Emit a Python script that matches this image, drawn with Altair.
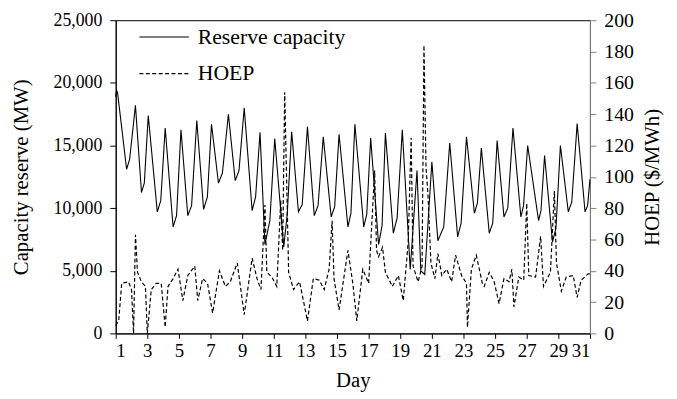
import altair as alt
import pandas as pd

# Reserve capacity (MW) — key points
reserve_day = [1.00, 1.06, 1.12, 1.69, 1.88, 2.25, 2.63, 2.81, 3.06, 3.63, 3.85, 4.13, 4.63, 4.85,
               5.13, 5.56, 5.80, 6.13, 6.56, 6.80, 7.06, 7.50, 7.75, 8.13, 8.56, 8.80, 9.13,
               9.63, 9.85, 10.13, 10.44, 10.75, 11.06, 11.63, 11.85, 12.13, 12.56, 12.80, 13.13,
               13.56, 13.80, 14.13, 14.63, 14.85, 15.13, 15.69, 15.88, 16.13, 16.69, 16.88,
               17.13, 17.63, 17.85, 18.06, 18.56, 18.80, 19.13, 19.63, 20.06, 20.30, 20.55,
               21.00, 21.38, 21.75, 22.13, 22.63, 22.85, 23.19, 23.69, 23.88, 24.13, 24.63,
               24.85, 25.13, 25.56, 25.80, 26.13, 26.63, 26.80, 27.06, 27.75, 27.90, 28.13,
               28.63, 28.85, 29.13, 29.63, 29.85, 30.19, 30.69, 30.85, 31.00]
reserve_mw = [18900, 19400, 19200, 13100, 13900, 18200, 11250, 12000, 17400, 9700, 10600, 16400,
              8500, 9400, 16250, 9400, 10200, 17000, 9900, 10900, 16700, 12000, 12800, 17500,
              12200, 13000, 18000, 9800, 10900, 16050, 7100, 9000, 15550, 6900, 9500, 16100,
              9700, 10300, 16500, 9400, 10200, 15700, 9300, 10100, 15900, 8500, 9600, 16700,
              8500, 9500, 15600, 7100, 8600, 16000, 8000, 9200, 16250, 5100, 13000, 5000,
              4700, 13700, 7400, 8500, 15200, 7700, 8800, 15700, 9600, 10400, 14800, 8000,
              8800, 15400, 9300, 10000, 16400, 9300, 10200, 15000, 9000, 9800, 14200, 7300,
              8400, 15000, 9700, 10500, 16750, 9700, 10200, 12300]

# HOEP ($/MWh) — key points
hoep_day = [1.00, 1.19, 1.38, 1.81, 2.00, 2.13, 2.25, 2.38, 2.63, 2.88, 3.00, 3.25, 3.56, 3.88,
            4.13, 4.31, 4.63, 4.94, 5.25, 5.56, 6.00, 6.19, 6.50, 6.81, 7.13, 7.56, 7.94, 8.25,
            8.69, 9.13, 9.63, 9.94, 10.19, 10.44, 10.56, 10.88, 11.19, 11.44, 11.56, 11.69,
            11.94, 12.25, 12.63, 13.13, 13.50, 13.88, 14.19, 14.50, 14.69, 14.81, 15.13, 15.69,
            16.00, 16.25, 16.63, 17.00, 17.38, 17.50, 17.63, 17.88, 18.06, 18.50, 18.88, 19.19,
            19.50, 19.69, 19.81, 20.13, 20.38, 20.50, 20.63, 20.75, 20.94, 21.19, 21.38, 21.63,
            21.94, 22.25, 22.50, 22.88, 23.19, 23.25, 23.50, 23.81, 24.19, 24.31, 24.63, 24.94,
            25.25, 25.56, 25.88, 26.06, 26.19, 26.50, 26.81, 27.00, 27.13, 27.56, 27.88, 28.06,
            28.50, 28.75, 28.88, 29.19, 29.50, 29.94, 30.19, 30.44, 30.88, 31.00]
hoep_price = [5, 8, 32, 33, 28, 0, 63, 39, 33, 30, 0, 28, 32, 32,
              4, 30, 35, 41, 21, 37, 43, 21, 35, 32, 13, 40, 30, 33,
              45, 12, 48, 35, 28, 82, 39, 36, 30, 85, 53, 154,
              39, 28, 33, 8, 35, 34, 28, 41, 72, 35, 15, 53,
              32, 8, 41, 32, 104, 53, 49, 55, 39, 30, 37, 21,
              58, 125, 43, 33, 43, 184, 106, 89, 45, 35, 51, 37,
              41, 33, 50, 37, 32, 4, 41, 50, 32, 30, 39, 33,
              19, 35, 33, 41, 17, 36, 34, 83, 37, 36, 62, 30,
              39, 91, 45, 27, 36, 37, 23, 34, 38, 38]

x_ticks = list(range(1, 32, 2))
left_ticks = [0, 5000, 10000, 15000, 20000, 25000]
right_ticks = list(range(0, 201, 20))
series_names = ["Reserve capacity", "HOEP"]

FONT = "Liberation Serif"

res_df = pd.DataFrame({"day": reserve_day, "value": reserve_mw, "series": series_names[0]})
hoep_df = pd.DataFrame({"day": hoep_day, "value": hoep_price, "series": series_names[1]})

dash_scale = alt.Scale(domain=series_names, range=[[1, 0], [4, 2.5]])
legend = alt.Legend(
    title=None, orient="none", legendX=23, legendY=-9,
    symbolType="stroke", symbolSize=2500, symbolStrokeColor="black",
    symbolStrokeWidth=1.2, labelFont=FONT, labelFontSize=22, labelColor="black",
    rowPadding=-17, labelOffset=8,
)

x_enc = alt.X("day:Q", scale=alt.Scale(domain=[1, 31], nice=False, zero=False),
              axis=alt.Axis(values=x_ticks, title="Day", tickSize=5, labelPadding=3,
                            labelFontSize=19, titlePadding=10))

reserve = alt.Chart(res_df).mark_line(color="black", strokeWidth=1.1).encode(
    x=x_enc,
    y=alt.Y("value:Q", scale=alt.Scale(domain=[0, 25000], nice=False),
            axis=alt.Axis(values=left_ticks, format=",d", title="Capacity reserve (MW)",
                          orient="left", tickSize=6, labelPadding=8, labelFontSize=18,
                          titlePadding=22)),
    strokeDash=alt.StrokeDash("series:N", scale=dash_scale, legend=legend),
)

hoep = alt.Chart(hoep_df).mark_line(color="black", strokeWidth=1.2).encode(
    x=x_enc,
    y=alt.Y("value:Q", scale=alt.Scale(domain=[0, 200], nice=False),
            axis=alt.Axis(values=right_ticks, format="d", title="HOEP ($/MWh)", orient="right",
                          tickSize=6, labelPadding=8, labelFontSize=20, titlePadding=29,
                          titleAngle=270, domainColor="#808080", tickColor="#808080")),
    strokeDash=alt.StrokeDash("series:N", scale=dash_scale, legend=legend),
)

chart = (
    alt.layer(reserve, hoep)
    .resolve_scale(y="independent")
    .properties(width=480, height=317, autosize=alt.AutoSizeParams(type="none"),
                padding={"left": 109, "top": 10, "right": 80, "bottom": 64},
                background="white")
    .configure_view(stroke="black", strokeWidth=1)
    .configure_axis(grid=False, domainColor="black", tickColor="black", labelColor="black",
                    titleColor="black", labelFont=FONT, titleFont=FONT,
                    titleFontSize=21, titleFontWeight="normal")
)

chart.save("out.html", embed_options={"renderer": "svg", "actions": False})
